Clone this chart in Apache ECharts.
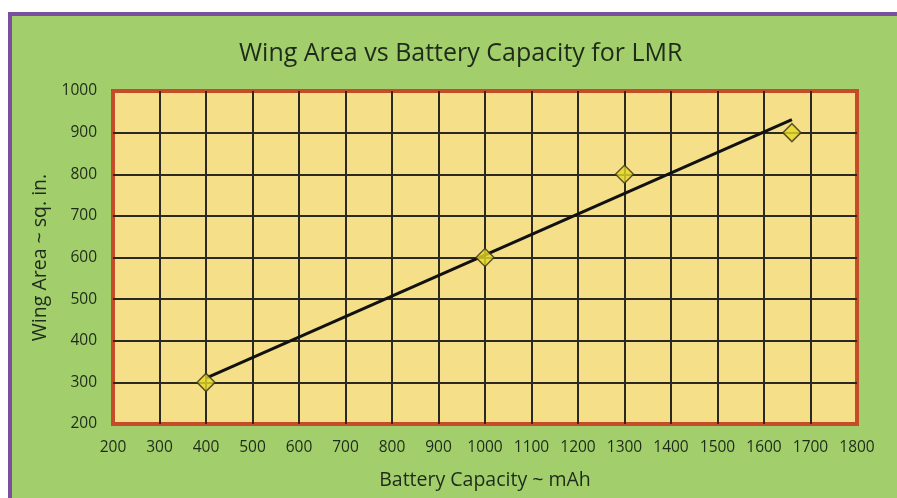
<!DOCTYPE html>
<html><head><meta charset="utf-8">
<script src="https://cdn.jsdelivr.net/npm/echarts@6/dist/echarts.min.js"></script>
<style>html,body{margin:0;padding:0;background:#fff}#c{width:897px;height:498px}</style>
</head><body><div id="c"></div>
<script>
const titleText = "Wing Area vs Battery Capacity for LMR";
const xName = "Battery Capacity ~ mAh";
const yName = "Wing Area ~ sq. in.";
const capacity = [400, 1000, 1300, 1660];
const wingArea = [300, 600, 800, 900];
const trendX = [400, 1660];
const trendY = [310, 931];

const chart = echarts.init(document.getElementById('c'), null, {renderer: 'canvas'});
const font = '"Open Sans", "Liberation Sans", sans-serif';
const txt = '#1f2b1a';
chart.setOption({
  animation: false,
  backgroundColor: '#ffffff',
  graphic: [
    {type: 'rect', z: -10, shape: {x: 9, y: 13, width: 900, height: 500}, style: {fill: '#a2ce6c'}},
    {type: 'rect', z: -9, shape: {x: 8, y: 12, width: 900, height: 4}, style: {fill: '#7a4f9e'}},
    {type: 'rect', z: -9, shape: {x: 8, y: 12, width: 4, height: 500}, style: {fill: '#7a4f9e'}}
  ],
  title: {
    text: titleText, left: 234, top: 36,
    textStyle: {fontFamily: font, fontSize: 25, fontWeight: 'normal', color: txt}
  },
  grid: {
    left: 113, right: 40, top: 91, bottom: 74, show: true,
    backgroundColor: '#f5df88', borderColor: '#c44c28', borderWidth: 4
  },
  xAxis: {
    type: 'value', min: 200, max: 1800, interval: 100,
    name: xName, nameLocation: 'middle', nameGap: 46,
    nameTextStyle: {fontFamily: font, fontSize: 19.5, color: txt},
    axisLine: {show: false}, axisTick: {show: false},
    axisLabel: {fontFamily: font, fontSize: 15.5, color: txt, margin: 16, formatter: v => String(v)},
    splitLine: {show: true, showMinLine: false, showMaxLine: false, lineStyle: {color: '#2a2a22', width: 2}}
  },
  yAxis: {
    type: 'value', min: 200, max: 1000, interval: 100,
    name: yName, nameLocation: 'middle', nameGap: 61,
    nameTextStyle: {fontFamily: font, fontSize: 19.5, color: txt},
    axisLine: {show: false}, axisTick: {show: false},
    axisLabel: {fontFamily: font, fontSize: 15.5, color: txt, margin: 16, formatter: v => String(v)},
    splitLine: {show: true, showMinLine: false, showMaxLine: false, lineStyle: {color: '#2a2a22', width: 2}}
  },
  series: [
    {
      type: 'line', data: trendX.map((x, i) => [x, trendY[i]]),
      symbol: 'none', lineStyle: {color: '#111', width: 3}, z: 3
    },
    {
      type: 'scatter', data: capacity.map((x, i) => [x, wingArea[i]]),
      symbol: 'diamond', symbolSize: [18, 18],
      itemStyle: {color: '#e6d829', borderColor: '#3a3318', borderWidth: 1.5}, z: 4
    }
  ]
});
</script></body></html>
